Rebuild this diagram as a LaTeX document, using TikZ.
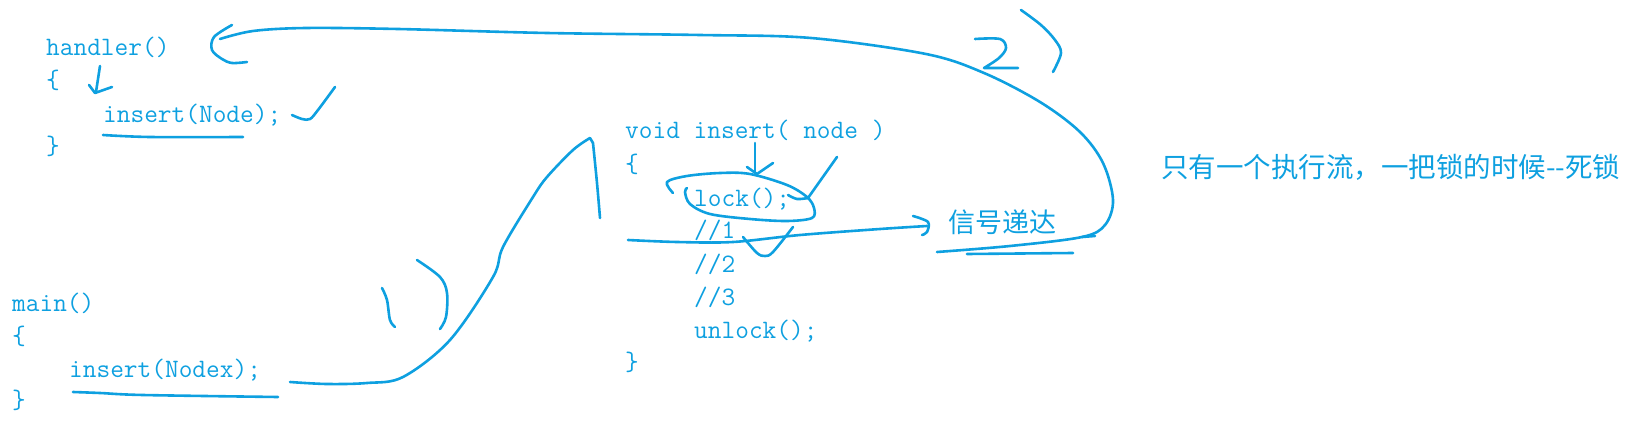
\documentclass[tikz,border=0pt]{standalone}
\usepackage{fontspec}
\newfontfamily\cjk{Noto Sans CJK SC}
\definecolor{ink}{RGB}{14,160,224}
\begin{document}
\begin{tikzpicture}[x=1pt,y=-1pt,
  code/.style={anchor=base west, inner sep=0pt, text=ink, font=\fontsize{26.6}{30}\selectfont\ttfamily},
  zh/.style={anchor=base west, inner sep=0pt, text=ink, font=\fontsize{27}{30}\selectfont\cjk},
  note/.style={anchor=base west, inner sep=0pt, text=ink, font=\fontsize{27.5}{30}\selectfont\cjk},
  pen/.style={draw=ink, line width=2.6pt, line cap=round, line join=round},
  sm/.style={smooth, tension=0.55}]
\useasboundingbox (0,0) rectangle (1644,425);

% handler block
\node[code] (h1) at (46,56) {handler()};
\node[code] (h2) at (46,89) {\{};
\node[code] (h3) at (103,123) {insert(Node);};
\node[code] (h4) at (46,155) {\}};

% main block
\node[code] (m1) at (12,311) {main()};
\node[code] (m2) at (12,344) {\{};
\node[code] (m3) at (69,377) {insert(Nodex);};
\node[code] (m4) at (12,408) {\}};

% insert function
\node[code] (f1) at (625,139) {void insert( node )};
\node[code] (f2) at (625,172) {\{};
\node[code] (f3) at (694,206) {lock();};
\node[code] (f4) at (694,238) {//1};
\node[code] (f5) at (694,272) {//2};
\node[code] (f6) at (694,305) {//3};
\node[code] (f7) at (694,338) {unlock();};
\node[code] (f8) at (625,370) {\}};

% chinese texts
\node[zh] (sig) at (948,232) {信号递达};
\node[note] (note) at (1161,178) {只有一个执行流，一把锁的时候{-}{-}死锁};

% ---- strokes ----
% big loop from signal back to handler
\draw[pen] plot[sm] coordinates {(220,39) (253,31) (306,28) (398,29) (547,33) (700,35) (811,38) (926,54) (984,73) (1040,102) (1080,132) (1103,163) (1113,200) (1105,225) (1082,237) (1010,246) (937,252)};
\draw[pen] (1082,237) -- (1095,236);
\draw[pen] plot[sm] coordinates {(232,25) (214,37) (212,50) (222,59) (232,63) (247,62)};
\draw[pen] (967,254) -- (1073,253);
% "2)"
\draw[pen] plot[sm] coordinates {(975,39) (1000,39) (1006,48) (999,58) (984,68)} -- (1018,68);
\draw[pen] plot[sm] coordinates {(1021,10) (1041,25) (1055,40) (1061,53) (1053,72)};

% handler arrow, checkmark, underline
\draw[pen] plot[sm] coordinates {(100,66) (98,79) (96,92)};
\draw[pen] (89,85) -- (95,93) -- (112,87);
\draw[pen] plot[sm] coordinates {(292,115) (302,119) (310,119) (318,110) (335,87)};
\draw[pen] plot[sm] coordinates {(103,135) (150,137) (243,137)};

% main underline and curve
\draw[pen] plot[sm] coordinates {(73,392) (100,393) (143,395) (278,397)};
\draw[pen] plot[sm] coordinates {(290,382) (327,384) (367,383) (403,377) (450,340) (493,277) (503,247) (533,197) (547,177) (573,150) (590,138)} -- (593,143);
\draw[pen] plot[sm] coordinates {(593,143) (597,183) (600,218)};
% "1)"
\draw[pen] plot[sm] coordinates {(382,288) (387,300) (390,320) (395,327)};
\draw[pen] plot[sm] coordinates {(417,260) (440,277) (447,293) (446,317) (440,329)};

% arrow to signal
\draw[pen] plot[sm] coordinates {(628,240) (677,242) (733,242) (800,235) (880,229) (927,226)};
\draw[pen] plot[sm] coordinates {(913,216) (928,222) (927,232) (922,235)};

% loop round lock()
\draw[pen] plot[sm] coordinates {(673,193) (667,182) (687,176) (720,173) (750,174) (787,185) (807,197) (814,208) (812,218) (787,221) (750,219) (710,214) (690,204) (685,192) (687,188)};
% arrow from insert down to lock
\draw[pen] (755,143) -- (755,173);
\draw[pen] (747,167) -- (757,174) -- (773,163);
% line from node down to ;
\draw[pen] (837,157) -- (808,198);
\draw[pen] plot[sm] coordinates {(788,195) (797,199) (808,198)};
% V under //1
\draw[pen] plot[sm] coordinates {(743,237) (757,253) (765,256) (773,252) (793,227)};
\end{tikzpicture}
\end{document}
